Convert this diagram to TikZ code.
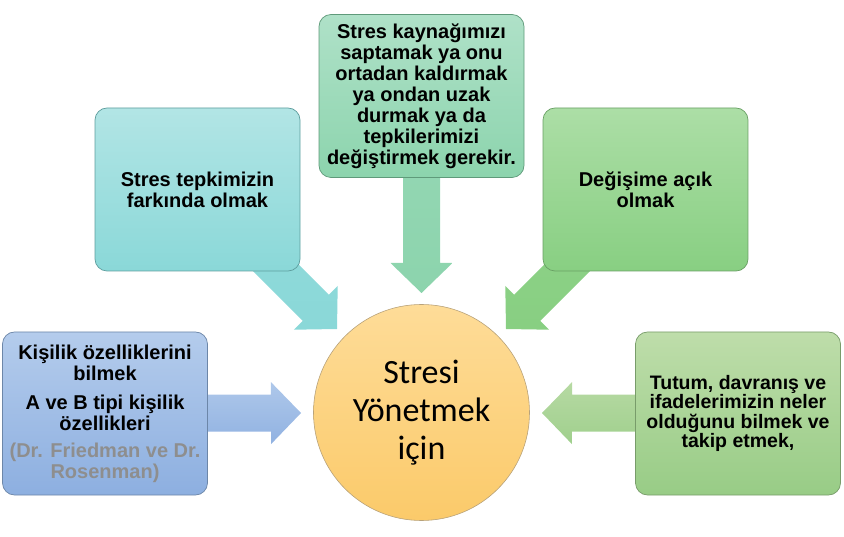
\documentclass[tikz,border=0pt]{standalone}
\usepackage{fontspec}
\setmainfont{Liberation Sans}
\newfontfamily\calibrifont{Carlito}
\usetikzlibrary{calc,backgrounds}
\definecolor{blueT}{HTML}{B4CCEC}
\definecolor{blueB}{HTML}{8DAFE0}
\definecolor{blueD}{HTML}{6C86A8}
\definecolor{tealT}{HTML}{B2E5E5}
\definecolor{tealB}{HTML}{8AD8D8}
\definecolor{tealD}{HTML}{5E9E9E}
\definecolor{mintT}{HTML}{AFE1C8}
\definecolor{mintB}{HTML}{8CD4AD}
\definecolor{mintD}{HTML}{5F9A7A}
\definecolor{grnT}{HTML}{ACDEA6}
\definecolor{grnB}{HTML}{88CF82}
\definecolor{grnD}{HTML}{69A064}
\definecolor{oliT}{HTML}{BEDDAA}
\definecolor{oliB}{HTML}{98CC86}
\definecolor{oliD}{HTML}{789C6A}
\definecolor{sunT}{HTML}{FEDC98}
\definecolor{sunB}{HTML}{FBCA6A}
\definecolor{sunD}{HTML}{B8A27A}
\definecolor{refgray}{HTML}{8E8E8E}
\tikzset{
  box/.style={draw=#1, line width=0.7pt, rounded corners=12pt,
    minimum width=205pt, minimum height=163pt, align=center, inner sep=0pt,
    font=\bfseries\fontsize{20}{21}\selectfont},
  hub/.style={circle, draw=sunD, line width=0.6pt, minimum size=216pt,
    top color=sunT, bottom color=sunB, align=center, inner sep=0pt,
    font=\calibrifont\fontsize{34}{38}\selectfont},
}
\newcommand\blockarrow[3]{%
  \coordinate (ba-h) at ($(#2)!30pt!(#1)$);
  \path[#3] ($(#1)!18.5pt!90:(#2)$) -- ($(ba-h)!18.5pt!-90:(#1)$)
    -- ($(ba-h)!31pt!-90:(#1)$) -- (#2) -- ($(ba-h)!31pt!90:(#1)$)
    -- ($(ba-h)!18.5pt!90:(#1)$) -- ($(#1)!18.5pt!-90:(#2)$) -- cycle;
}
\begin{document}
\begin{tikzpicture}[x=1pt,y=-1pt]
\useasboundingbox (0,0) rectangle (844,537);

\node[hub] (hub) at (421.5,412.5) {Stresi\\Yönetmek\\için};

\node[box=blueD, top color=blueT, bottom color=blueB] (L) at (105,413.5)
  {Kişilik özelliklerini\\bilmek\\[8pt]A ve B tipi kişilik\\özellikleri\\[6pt]\textcolor{refgray}{(Dr. Friedman ve Dr.}\\\textcolor{refgray}{Rosenman)}};
\node[box=tealD, top color=tealT, bottom color=tealB] (TL) at (197.5,189.5)
  {Stres tepkimizin\\farkında olmak};
\node[box=mintD, top color=mintT, bottom color=mintB] (TC) at (421.5,96)
  {Stres kaynağımızı\\saptamak ya onu\\ortadan kaldırmak\\ya ondan uzak\\durmak ya da\\tepkilerimizi\\değiştirmek gerekir.};
\node[box=grnD, top color=grnT, bottom color=grnB] (TR) at (645.5,189.5)
  {Değişime açık\\olmak};
\node[box=oliD, top color=oliT, bottom color=oliB,
  font=\bfseries\fontsize{19.5}{19.5}\selectfont] (R) at (738,413.5)
  {Tutum, davranış ve\\ifadelerimizin neler\\olduğunu bilmek ve\\takip etmek,};

\coordinate (tL) at (301,413);
\coordinate (tTL) at (337,329);
\coordinate (tTC) at (421.5,293);
\coordinate (tTR) at (506,329);
\coordinate (tR) at (542,413);

\begin{scope}[on background layer]
  \blockarrow{L.center}{tL}{top color=blueT!85!blueB, bottom color=blueB!90!blueT}
  \blockarrow{TL.center}{tTL}{top color=tealB!80!tealT, bottom color=tealB}
  \blockarrow{TC.center}{tTC}{top color=mintB!70!mintT, bottom color=mintB}
  \blockarrow{TR.center}{tTR}{top color=grnB!80!grnT, bottom color=grnB}
  \blockarrow{R.center}{tR}{top color=oliT!80!oliB, bottom color=oliB!80!oliT}
\end{scope}
\end{tikzpicture}
\end{document}
